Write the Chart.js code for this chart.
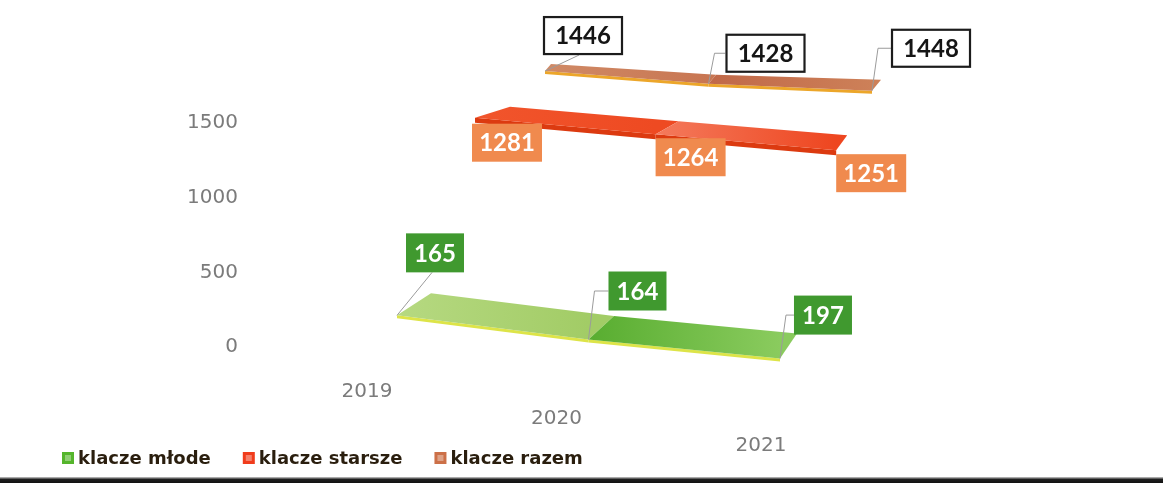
<!DOCTYPE html>
<html>
<head>
<meta charset="utf-8">
<script src="https://cdn.jsdelivr.net/npm/chart.js@4/dist/chart.umd.min.js"></script>
<style>
  html, body { margin: 0; padding: 0; background: #fff; }
  #wrap { position: relative; width: 1163px; height: 483px; overflow: hidden; }
  #scanEdge { position: absolute; left: 0; right: 0; bottom: 0; height: 6px;
    background: linear-gradient(#cfcfcf, #1e1e1e 40%, #111); }
</style>
</head>
<body>
<div id="wrap">
  <canvas id="horsesChart" width="1163" height="483"></canvas>
  <div id="scanEdge"></div>
</div>
<script>
const years = ["2019", "2020", "2021"];
const klaczeMlode = [165, 164, 197];
const klaczeStarsze = [1281, 1264, 1251];
const klaczeRazem = [1446, 1428, 1448];
const yTicks = [0, 500, 1000, 1500];

// fake perspective: each series sits at a depth, further ones shrink and flatten
const depths = [
  { dx: 147, sx: 0.7226, dy: -7, tilt: 24, back: [[34, -22], [17, -25]], face: 3 },
  { dx: 225, sx: 0.6815, dy: -38, tilt: 14, back: [[35, -11], [11, -15]], face: 5 },
  { dx: 295, sx: 0.617, dy: -60, tilt: 10, back: [[6, -7], [9, -11]], face: 3 },
];

const ribbonStyles = [
  {
    depth: 0,
    segs: [["#b6d981", "#a2cc66"], ["#58ad30", "#8acb5e"]],
    face: "#dde448",
    square: "#55b52c",
    box: { fill: "#40992f", text: "#ffffff", border: null, w: 58, h: 39 },
    offsets: [[9, -82], [20, -68], [14, -63]],
    leaders: ["diag", "elbow", "elbow"],
  },
  {
    depth: 1,
    segs: [["#f1552c", "#ee4a22"], ["#f47a5c", "#ee4620"]],
    face: "#dc3a10",
    square: "#f03c1c",
    box: { fill: "#f08a4e", text: "#ffffff", border: null, w: 70, h: 38 },
    offsets: [[-3, 6], [0, 4], [0, 4]],
    leaders: [null, null, null],
  },
  {
    depth: 2,
    segs: [["#d08a66", "#c87652"], ["#c06848", "#cd8058"]],
    face: "#eca62a",
    square: "#cc7048",
    box: { fill: "#ffffff", text: "#151515", border: "#1c1c1c", w: 80, h: 39 },
    offsets: [[-2, -55], [17, -50], [19, -62]],
    leaders: ["diag", "elbow", "elbow"],
  },
];

function project(chart, i, v, d) {
  const xs = chart.scales.x, ys = chart.scales.y, s = depths[d];
  return {
    x: xs.left + s.dx + (xs.getPixelForValue(i) - xs.left) * s.sx,
    y: ys.getPixelForValue(v) + s.dy + s.tilt * i,
  };
}

function backVec(d, i, n) {
  const b = depths[d].back, t = n ? i / n : 0;
  return [b[0][0] + (b[1][0] - b[0][0]) * t, b[0][1] + (b[1][1] - b[0][1]) * t];
}

const ribbons3d = {
  id: "ribbons3d",
  afterDatasetsDraw(chart) {
    const ctx = chart.ctx;
    const sets = chart.data.datasets;
    const n = years.length - 1;
    ctx.save();
    // back to front
    for (let k = sets.length - 1; k >= 0; k--) {
      const st = ribbonStyles[k], d = st.depth, vals = sets[k].data;
      for (let i = 0; i < n; i++) {
        const f0 = project(chart, i, vals[i], d), f1 = project(chart, i + 1, vals[i + 1], d);
        const b0 = backVec(d, i, n), b1 = backVec(d, i + 1, n);
        const th = depths[d].face;
        // front face
        ctx.fillStyle = st.face;
        ctx.beginPath();
        ctx.moveTo(f0.x, f0.y);
        ctx.lineTo(f1.x, f1.y);
        ctx.lineTo(f1.x, f1.y + th);
        ctx.lineTo(f0.x, f0.y + th);
        ctx.closePath();
        ctx.fill();
        // top surface
        const g = ctx.createLinearGradient(f0.x, 0, f1.x, 0);
        g.addColorStop(0, st.segs[i][0]);
        g.addColorStop(1, st.segs[i][1]);
        ctx.fillStyle = g;
        ctx.beginPath();
        ctx.moveTo(f0.x, f0.y);
        ctx.lineTo(f1.x, f1.y);
        ctx.lineTo(f1.x + b1[0], f1.y + b1[1]);
        ctx.lineTo(f0.x + b0[0], f0.y + b0[1]);
        ctx.closePath();
        ctx.fill();
      }
    }

    // value labels with leader lines
    ctx.font = "bold 24px Lato";
    ctx.textAlign = "center";
    ctx.textBaseline = "middle";
    for (let k = sets.length - 1; k >= 0; k--) {
      const st = ribbonStyles[k], vals = sets[k].data, bx = st.box;
      vals.forEach((v, i) => {
        const p = project(chart, i, v, st.depth);
        const x = p.x + st.offsets[i][0], y = p.y + st.offsets[i][1];
        ctx.strokeStyle = "#9b9b9b";
        ctx.lineWidth = 1;
        if (st.leaders[i] === "diag") {
          ctx.beginPath();
          ctx.moveTo(p.x, p.y);
          ctx.lineTo(x + bx.w * 0.45, y + bx.h);
          ctx.stroke();
        } else if (st.leaders[i] === "elbow") {
          ctx.beginPath();
          ctx.moveTo(p.x, p.y);
          ctx.lineTo(p.x + 6, y + bx.h / 2);
          ctx.lineTo(x, y + bx.h / 2);
          ctx.stroke();
        }
        ctx.fillStyle = bx.fill;
        ctx.fillRect(x, y, bx.w, bx.h);
        if (bx.border) {
          ctx.strokeStyle = bx.border;
          ctx.lineWidth = 2.2;
          ctx.strokeRect(x + 1, y + 1, bx.w - 2, bx.h - 2);
        }
        ctx.fillStyle = bx.text;
        ctx.fillText(String(v), x + bx.w / 2, y + bx.h / 2 + 1);
      });
    }

    // staggered category labels
    ctx.font = "20px 'DejaVu Sans'";
    ctx.fillStyle = "#7b7b7b";
    years.forEach((yr, i) => {
      const p = project(chart, i, 0, 0);
      ctx.fillText(yr, p.x - 30 - 9.5 * i + 7.5 * i * i, p.y + 52 + 3 * i);
    });

    // legend
    ctx.font = "bold 18px 'DejaVu Sans'";
    ctx.textAlign = "left";
    let lx = 62;
    const ly = 458;
    sets.forEach((ds, k) => {
      const c = ribbonStyles[k].square;
      ctx.fillStyle = c;
      ctx.fillRect(lx, ly - 6, 12, 12);
      ctx.fillStyle = "rgba(255,255,255,0.35)";
      ctx.fillRect(lx + 3, ly - 3, 6, 6);
      ctx.fillStyle = "#2a1e0e";
      ctx.fillText(ds.label, lx + 16, ly + 1);
      lx += 16 + ctx.measureText(ds.label).width + 32;
    });
    ctx.restore();
  },
};

const ctx = document.getElementById("horsesChart");

new Chart(ctx, {
  type: "line",
  data: {
    labels: years,
    datasets: [
      { label: "klacze młode", data: klaczeMlode },
      { label: "klacze starsze", data: klaczeStarsze },
      { label: "klacze razem", data: klaczeRazem },
    ].map((ds) => ({ ...ds, showLine: false, pointRadius: 0, pointHoverRadius: 0 })),
  },
  options: {
    responsive: false,
    animation: false,
    events: [],
    layout: { padding: { top: 123, bottom: 136, left: 0, right: 383 } },
    plugins: { legend: { display: false }, tooltip: { enabled: false } },
    scales: {
      x: { display: false, offset: false },
      y: {
        min: 0,
        max: 1500,
        afterBuildTicks: (scale) => {
          scale.ticks = yTicks.map((v) => ({ value: v }));
        },
        afterFit: (scale) => {
          scale.width = 250;
        },
        grid: { display: false },
        border: { display: false },
        ticks: {
          padding: 4,
          color: "#7b7b7b",
          font: { family: "DejaVu Sans", size: 20 },
          callback: (v) => String(v),
        },
      },
    },
  },
  plugins: [ribbons3d],
});
</script>
</body>
</html>
